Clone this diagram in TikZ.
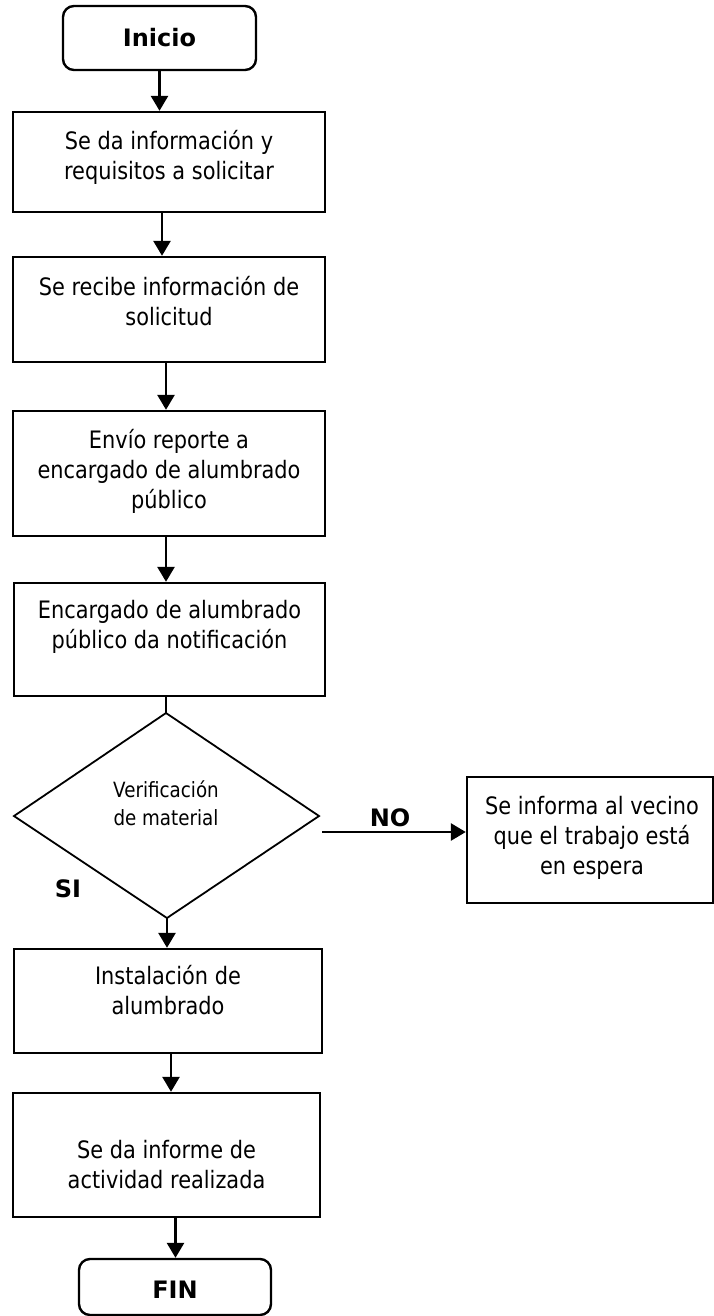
\documentclass[tikz,border=0pt]{standalone}
\usepackage{fontspec}
\setmainfont{DejaVu Sans}[FakeStretch=0.87]
\newfontfamily\boldfnt{DejaVu Sans Bold}
\usetikzlibrary{arrows.meta}
\tikzset{
  box/.style={draw, line width=2.4pt, rectangle, inner sep=0pt},
  term/.style={draw, line width=2.4pt, rectangle, rounded corners=11pt, inner sep=0pt},
  txt/.style={align=center, font=\fontsize{24}{30}\selectfont, inner sep=0pt},
  smalltxt/.style={align=center, font=\fontsize{21}{28}\selectfont, inner sep=0pt},
  boldtxt/.style={font=\boldfnt\fontsize{24}{30}\selectfont, inner sep=0pt},
  arr/.style={line width=2.8pt, -{Triangle[width=17pt,length=15pt]}},
  link/.style={line width=2.8pt},
  dia/.style={line width=1.8pt, line join=miter},
}
\begin{document}
\begin{tikzpicture}[x=1pt,y=-1pt]
\useasboundingbox (0,0) rectangle (714,1316);
% terminals and boxes
\node[term, minimum width=193pt, minimum height=64pt] (ini) at (159.5,38) {};
\node[box, minimum width=312pt, minimum height=100pt] (b1) at (169,162) {};
\node[box, minimum width=312pt, minimum height=105pt] (b2) at (169,309.5) {};
\node[box, minimum width=312pt, minimum height=125pt] (b3) at (169,473.5) {};
\node[box, minimum width=311pt, minimum height=113pt] (b4) at (169.5,639.5) {};
\node[box, minimum width=246pt, minimum height=126pt] (br) at (590,840) {};
\node[box, minimum width=308pt, minimum height=104pt] (b5) at (168,1001) {};
\node[box, minimum width=307pt, minimum height=124pt] (b6) at (166.5,1155) {};
\node[term, minimum width=192pt, minimum height=56pt] (fin) at (175,1287) {};
% diamond
\coordinate (dt) at (166,713);
\coordinate (dr) at (319,816);
\coordinate (db) at (167,918);
\coordinate (dl) at (14,816);
\draw[dia] (dt) -- (dr) -- (db) -- (dl) -- cycle;
% texts
\node[boldtxt] (tini) at (159.5,38) {Inicio};
\node[txt] (t1) at (169,157) {Se da información y\\requisitos a solicitar};
\node[txt] (t2) at (169,301) {Se recibe información de\\solicitud};
\node[txt] (t3) at (169,471) {Envío reporte a\\encargado de alumbrado\\público};
\node[txt] (t4) at (169.5,627) {Encargado de alumbrado\\público da notificación};
\node[smalltxt] (td) at (166,803) {Verificación\\de material};
\node[txt] (tr) at (592,838) {Se informa al vecino\\que el trabajo está\\en espera};
\node[txt] (t5) at (168,990) {Instalación de\\alumbrado};
\node[txt] (t6) at (166.5,1164.5) {Se da informe de\\actividad realizada};
\node[boldtxt] (tfin) at (175,1290) {FIN};
\node[boldtxt] (tno) at (390,818) {NO};
\node[boldtxt] (tsi) at (68,889) {SI};
% connectors
\draw[arr] (ini.south) -- (ini.south |- b1.north);
\draw[arr] ([xshift=-7pt]b1.south) -- ([xshift=-7pt]b1.south |- b2.north);
\draw[arr] ([xshift=-3pt]b2.south) -- ([xshift=-3pt]b2.south |- b3.north);
\draw[arr] ([xshift=-3pt]b3.south) -- ([xshift=-3pt]b3.south |- b4.north);
\draw[link] ([xshift=-3.5pt]b4.south) -- (dt);
\coordinate (nost) at (322,832);
\draw[arr] (nost) -- (nost -| br.west);
\draw[arr] (db) -- (db |- b5.north);
\draw[arr] ([xshift=3pt]b5.south) -- ([xshift=3pt]b5.south |- b6.north);
\draw[arr] ([xshift=9pt]b6.south) -- ([xshift=9pt]b6.south |- fin.north);
\end{tikzpicture}
\end{document}
